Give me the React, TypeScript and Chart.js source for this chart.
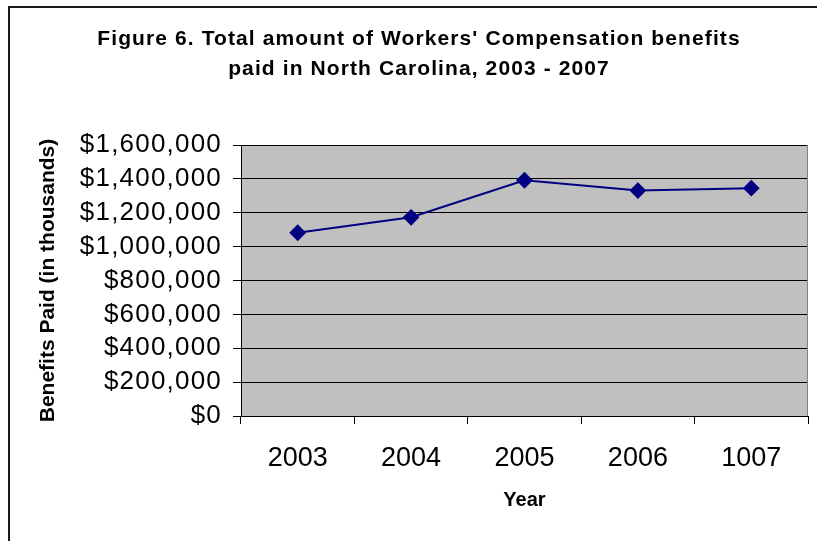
import React, { useEffect, useRef } from 'react';
import { Chart, registerables } from 'chart.js';

Chart.register(...registerables);

const TITLE_LINES = [
  "Figure 6. Total amount of Workers' Compensation benefits",
  'paid in North Carolina, 2003 - 2007',
];
const YEARS = ['2003', '2004', '2005', '2006', '1007'];
const BENEFITS = [1082000, 1173000, 1392000, 1331000, 1345000];
const Y_MIN = 0;
const Y_MAX = 1600000;
const Y_STEP = 200000;
const X_TITLE = 'Year';
const Y_TITLE = 'Benefits Paid (in thousands)';

const FONT = '"Liberation Sans", Arial, Helvetica, sans-serif';

const decorPlugin = {
  id: 'decor',
  afterLayout(chart: any) {
    const y = chart.scales.y;
    if (y && !y.__spaced) {
      const orig = y.drawLabels.bind(y);
      y.drawLabels = (area: any) => {
        const ctx = chart.ctx;
        ctx.save();
        (ctx as any).letterSpacing = '1.2px';
        orig(area);
        ctx.restore();
      };
      y.__spaced = true;
    }
  },
  beforeDraw(chart: any) {
    const { ctx, chartArea: a } = chart;
    ctx.save();
    ctx.fillStyle = '#ffffff';
    ctx.fillRect(0, 0, chart.width, chart.height);
    // outer frame
    ctx.strokeStyle = '#1a1a1a';
    ctx.lineWidth = 2;
    ctx.beginPath();
    ctx.moveTo(9, chart.height + 2);
    ctx.lineTo(9, 7);
    ctx.lineTo(chart.width + 2, 7);
    ctx.stroke();
    // plot background
    ctx.fillStyle = '#C0C0C0';
    ctx.fillRect(a.left, a.top, a.right - a.left, a.bottom - a.top);
    // main title
    ctx.fillStyle = '#000000';
    ctx.font = 'bold 21px ' + FONT;
    (ctx as any).letterSpacing = '1.1px';
    ctx.textAlign = 'center';
    ctx.textBaseline = 'alphabetic';
    ctx.fillText(TITLE_LINES[0], 419, 44.5);
    ctx.fillText(TITLE_LINES[1], 419, 75);
    ctx.restore();
  },
  beforeDatasetsDraw(chart: any) {
    const { ctx, chartArea: a } = chart;
    ctx.save();
    ctx.strokeStyle = '#808080';
    ctx.lineWidth = 1;
    ctx.beginPath();
    ctx.moveTo(a.right - 0.5, a.top);
    ctx.lineTo(a.right - 0.5, a.bottom);
    ctx.stroke();
    ctx.restore();
  },
};

export default function App() {
  const ref = useRef<HTMLCanvasElement | null>(null);

  useEffect(() => {
    if (!ref.current) return;
    Chart.defaults.font.family = FONT;
    const chart = new Chart(ref.current, {
      type: 'line',
      data: {
        labels: YEARS,
        datasets: [
          {
            data: BENEFITS,
            borderColor: '#000080',
            backgroundColor: '#000080',
            borderWidth: 2,
            pointStyle: 'rectRot',
            pointRadius: 7,
            pointHoverRadius: 7,
            pointBackgroundColor: '#000080',
            pointBorderColor: '#000080',
            tension: 0,
            fill: false,
          },
        ],
      },
      options: {
        responsive: false,
        animation: false,
        layout: { padding: { top: 145, right: 8, left: 0, bottom: 0 } },
        plugins: {
          legend: { display: false },
          title: { display: false },
          tooltip: { enabled: false },
        },
        scales: {
          x: {
            type: 'category',
            offset: true,
            grid: {
              offset: true,
              drawOnChartArea: false,
              drawTicks: true,
              tickLength: 8,
              color: '#000000',
            },
            border: { color: '#000000', width: 1 },
            ticks: {
              color: '#000000',
              font: { size: 27 },
              padding: 18,
              maxRotation: 0,
              autoSkip: false,
            },
            title: {
              display: true,
              text: X_TITLE,
              color: '#000000',
              font: { size: 20, weight: 'bold' },
              padding: { top: 0, bottom: 29 },
            },
            afterFit: (s: any) => {
              s.height = 125;
            },
          },
          y: {
            min: Y_MIN,
            max: Y_MAX,
            grid: {
              color: '#000000',
              lineWidth: 1,
              tickLength: 8,
              drawTicks: true,
            },
            border: { color: '#000000', width: 1 },
            ticks: {
              stepSize: Y_STEP,
              autoSkip: false,
              color: '#000000',
              font: { size: 26 },
              padding: 11,
              callback: (v: any) => '$' + Number(v).toLocaleString('en-US'),
            },
            title: {
              display: true,
              text: Y_TITLE,
              color: '#000000',
              font: { size: 21, weight: 'bold' },
              padding: { top: 36, bottom: 0 },
            },
            afterFit: (s: any) => {
              s.width = 241;
            },
          },
        },
      },
      plugins: [decorPlugin],
    });
    return () => chart.destroy();
  }, []);

  return (
    <div style={{ position: 'absolute', left: 0, top: 0, width: 817, height: 541, background: '#fff' }}>
      <canvas ref={ref} width={817} height={541} style={{ display: 'block' }} />
    </div>
  );
}
